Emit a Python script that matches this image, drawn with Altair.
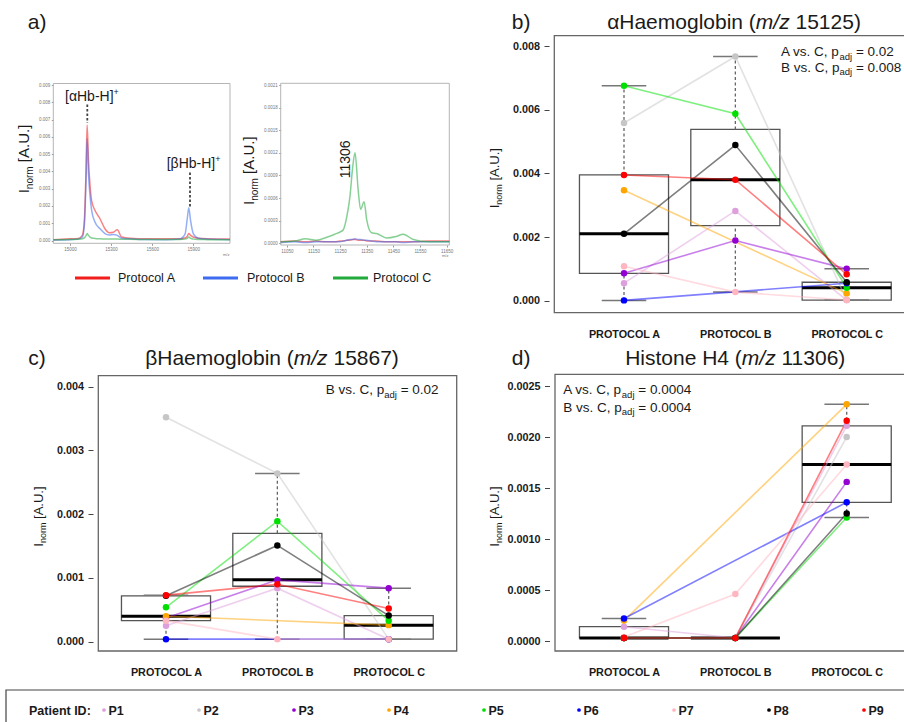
import math
import altair as alt
import pandas as pd

W, H = 904, 722
FONT = "Liberation Sans"

PATIENTS = ["P1", "P2", "P3", "P4", "P5", "P6", "P7", "P8", "P9"]
PATIENT_COLORS = ["#DDA0DD", "#C6C6C6", "#9400D3", "#FFA500", "#00E000",
                  "#0000FF", "#FFB6C1", "#000000", "#FF0000"]
PROTOCOL_LABELS = ["PROTOCOL A", "PROTOCOL B", "PROTOCOL C"]

# b) alpha-haemoglobin (m/z 15125), one value per patient, None = no value
AHB_A = [0.00055, 0.00558, 0.00086, 0.00347, 0.00675, 0.00001, 0.00108, 0.00210, 0.00395]
AHB_B = [0.00282, 0.00767, 0.00189, None, 0.00587, None, 0.00027, 0.00489, 0.00380]
AHB_C = [0.00002, 0.00002, 0.00100, 0.00023, 0.00041, 0.00055, 0.00002, 0.00058, 0.00083]

# c) beta-haemoglobin (m/z 15867)
BHB_A = [0.00025, 0.00352, 0.00037, 0.00040, 0.00054, 0.00004, 0.00033, 0.00072, 0.00073]
BHB_B = [0.00084, 0.00264, 0.00097, None, 0.00189, None, 0.00004, 0.00151, 0.00090]
BHB_C = [0.00004, 0.00004, 0.00084, 0.00026, 0.00033, 0.00004, 0.00004, 0.00041, 0.00052]

# d) histone H4 (m/z 11306)
H4_A = [0.00014, 0.00003, 0.00003, 0.00020, 0.00003, 0.00022, 0.00004, 0.00003, 0.00003]
H4_B = [0.00003, 0.00003, 0.00003, None, 0.00003, None, 0.00046, 0.00003, 0.00003]
H4_C = [0.00211, 0.00200, 0.00156, 0.00232, 0.00121, 0.00136, 0.00173, 0.00125, 0.00216]

AHB_TICKS = [0, 0.002, 0.004, 0.006, 0.008]
BHB_TICKS = [0, 0.001, 0.002, 0.003, 0.004]
H4_BOX_TICKS = [0, 0.0005, 0.001, 0.0015, 0.002, 0.0025]

# a) spectra
SPEC_NAMES = ["Protocol A", "Protocol B", "Protocol C"]
SPEC_COLORS = ["#F21D1D", "#3D6CF0", "#23A93C"]

HB_MZ = [14880, 15000, 15060, 15090, 15105, 15117, 15125, 15134, 15146, 15158,
         15182, 15219, 15255, 15287, 15316, 15345, 15377, 15438, 15550, 15700,
         15800, 15839, 15856, 15867, 15880, 15900, 15937, 16000, 16168]
HB_SPEC_A = [0.00005, 0.0001, 0.00012, 0.0003, 0.0012, 0.0041, 0.0067, 0.0048, 0.0032, 0.0023,
             0.00175, 0.00126, 0.00068, 0.00045, 0.00048, 0.00062, 0.0002, 0.00013, 0.0001, 0.0001,
             0.0001, 0.00015, 0.00025, 0.0004, 0.0003, 0.0002, 0.00013, 0.0001, 0.00008]
HB_SPEC_B = [0.00003, 0.00005, 0.00008, 0.0002, 0.0009, 0.0035, 0.0059, 0.004, 0.0026, 0.00175,
             0.00107, 0.00068, 0.0004, 0.00032, 0.00035, 0.0003, 0.00013, 0.0001, 0.00006, 0.00005,
             0.00008, 0.00035, 0.00126, 0.0019, 0.00116, 0.0004, 0.00013, 0.00008, 0.00005]
HB_SPEC_C = [0.00004, 0.00006, 0.00007, 0.0001, 0.00015, 0.00028, 0.0004, 0.0003, 0.0002, 0.00015,
             0.00012, 0.0001, 0.00009, 0.00008, 0.00008, 0.00008, 0.00007, 0.00007, 0.00006, 0.00006,
             0.00006, 0.00008, 0.00012, 0.0002, 0.00012, 0.00008, 0.00006, 0.00005, 0.00004]

H4_MZ = [11027, 11080, 11120, 11160, 11200, 11230, 11250, 11262, 11275, 11287, 11297, 11306,
         11318, 11327, 11340, 11350, 11368, 11387, 11425, 11460, 11487, 11525, 11580, 11660]
H4_SPEC_A = [0.00002, 0.00003, 0.00002, 0.00003, 0.00002, 0.00002, 0.00003, 0.00003, 0.00004, 0.00004,
             0.00005, 0.00005, 0.00004, 0.00004, 0.00004, 0.00003, 0.00003, 0.00003, 0.00002, 0.00002,
             0.00002, 0.00002, 0.00003, 0.00003]
H4_SPEC_B = [0.00001, 0.00002, 0.00001, 0.00002, 0.00002, 0.00002, 0.00002, 0.00003, 0.00004, 0.00005,
             0.00005, 0.00006, 0.00005, 0.00005, 0.00004, 0.00004, 0.00003, 0.00002, 0.00002, 0.00002,
             0.00001, 0.00002, 0.00002, 0.00002]
H4_SPEC_C = [0.00002, 0.00003, 0.00006, 0.00004, 0.00008, 0.00012, 0.00015, 0.00018, 0.00035, 0.00062,
             0.001, 0.0012, 0.0007, 0.00045, 0.00055, 0.00031, 0.00014, 0.00013, 0.00007, 0.00009,
             0.00012, 0.00005, 0.00002, 0.00002]

HB_TICKS_X = [15000, 15300, 15600, 15900]
HB_TICKS_Y = [0, 0.001, 0.002, 0.003, 0.004, 0.005, 0.006, 0.007, 0.008, 0.009]
H4_TICKS_X = [11050, 11150, 11250, 11350, 11450, 11550, 11650]
H4_TICKS_Y = [0, 0.0003, 0.0006, 0.0009, 0.0012, 0.0015, 0.0018, 0.0021]

# ---------------------------------------------------------------- helpers
CW = {' ': 278, '(': 333, ')': 333, '+': 584, ',': 278, '-': 333, '.': 278, '/': 278,
      ':': 278, '=': 584, '[': 278, ']': 278, 'A': 667, 'B': 667, 'C': 722, 'H': 722,
      'I': 278, 'U': 722, 'P': 667, 'a': 556, 'b': 556, 'c': 500, 'd': 556, 'e': 556,
      'g': 556, 'i': 222, 'j': 222, 'l': 222, 'm': 833, 'n': 556, 'o': 556, 'p': 556,
      'r': 333, 's': 500, 't': 278, 'v': 500, 'z': 500, 'α': 578, 'β': 575}


def tw(s, size):
    return sum(CW.get(c, 556) for c in s) / 1000.0 * size


ONE = pd.DataFrame({"k": [0]})
INK = "#1a1a1a"


def label(s, x, y, size, align="left", baseline="alphabetic", angle=0,
          weight="normal", style="normal", color=INK, font=FONT):
    props = dict(text=s, x=x, y=y, fontSize=size, font=font, align=align,
                 baseline=baseline, fontWeight=weight, fontStyle=style, color=color)
    if angle:
        props["angle"] = angle
    return alt.Chart(ONE).mark_text(**props).encode(opacity=alt.value(1))


def seq(x0, base, pieces):
    out = []
    x = x0
    for s, size, style, dy in pieces:
        lead = len(s) - len(s.lstrip(" "))
        out.append(label(s.strip(), x + tw(" ", size) * lead, base + dy, size, style=style))
        x += tw(s, size)
    return out


def centered(cx, base, pieces):
    total = sum(tw(s, size) for s, size, _, _ in pieces)
    return seq(cx - total / 2.0, base, pieces)


def rule(x1, x2, y1, y2, color, width, dash=None):
    m = dict(color=color, strokeWidth=width)
    if dash:
        m["strokeDash"] = dash
    return alt.Chart(ONE).mark_rule(**m).encode(
        x=alt.value(x1), x2=alt.value(x2), y=alt.value(y1), y2=alt.value(y2))


def frame(x1, x2, y1, y2, color, width):
    return alt.Chart(ONE).mark_rect(fill="white", fillOpacity=0, stroke=color,
                                    strokeWidth=width).encode(
        x=alt.value(x1), x2=alt.value(x2), y=alt.value(y1), y2=alt.value(y2))


def ytitle(xb, ybot, size, sub):
    w1 = tw("I", size)
    w2 = tw("norm", sub)
    return [label("I", xb, ybot, size, angle=270),
            label("norm", xb + size * 0.25, ybot - w1, sub, angle=270),
            label("[A.U.]", xb, ybot - w1 - w2 - tw(" ", size), size, angle=270)]


def padj(x0, base, prefix, value, size=13.5, sub=9.5):
    return seq(x0, base, [(prefix, size, "normal", 0), ("adj", sub, "normal", 3.5),
                          (" = " + value, size, "normal", 0)])


def fivenum(v):
    s = sorted(v)
    n = len(s)
    n4 = math.floor((n + 3) / 2) / 2
    idx = [1, n4, (n + 1) / 2, n + 1 - n4, n]
    return [0.5 * (s[math.floor(d) - 1] + s[math.ceil(d) - 1]) for d in idx]


def box_stats(v):
    _, q1, med, q3, _ = fivenum(v)
    iqr = q3 - q1
    hi = max(x for x in v if x <= q3 + 1.5 * iqr)
    lo = min(x for x in v if x >= q1 - 1.5 * iqr)
    return q1, med, q3, lo, hi


pat_color = dict(scale=alt.Scale(domain=PATIENTS, range=PATIENT_COLORS), legend=None)


def box_panel(groups, x_range, ymax, y_range, yticks, yfmt, axis_x, plot_bottom):
    xs = alt.Scale(domain=[1, 3], range=x_range, nice=False, zero=False)
    ys = alt.Scale(domain=[0, ymax], range=y_range, nice=False, zero=False)
    pts, boxes, whisk, caps = [], [], [], []
    for gi, vals in enumerate(groups):
        pos = gi + 1
        present = [v for v in vals if v is not None]
        q1, med, q3, lo, hi = box_stats(present)
        boxes.append(dict(x1=pos - 0.4, x2=pos + 0.4, q1=q1, q3=q3, med=med))
        whisk += [dict(pos=pos, a=q3, b=hi), dict(pos=pos, a=lo, b=q1)]
        caps += [dict(c1=pos - 0.2, c2=pos + 0.2, v=hi), dict(c1=pos - 0.2, c2=pos + 0.2, v=lo)]
        for p, v in zip(PATIENTS, vals):
            if v is not None:
                pts.append(dict(patient=p, pos=pos, val=v))
    bdf, wdf, cdf, pdf = (pd.DataFrame(boxes), pd.DataFrame(whisk),
                          pd.DataFrame(caps), pd.DataFrame(pts))
    label_expr = ("datum.value == 1 ? '%s' : datum.value == 2 ? '%s' : '%s'"
                  % tuple(PROTOCOL_LABELS))
    xaxis = alt.Axis(orient="bottom", offset=plot_bottom - H, values=[1, 2, 3],
                     labelExpr=label_expr, ticks=False, tickSize=0, domain=False,
                     grid=False, labelFont=FONT, labelFontWeight="bold", labelFontSize=10.8,
                     labelColor=INK, labelPadding=15.5, labelFlush=False,
                     labelOverlap=False, title=None)
    yaxis = alt.Axis(orient="left", offset=-axis_x, values=yticks, format=yfmt,
                     tickSize=5, tickColor="#444", tickWidth=1, domain=False, grid=False,
                     labelFont=FONT, labelFontWeight="bold", labelFontSize=10.8,
                     labelColor=INK, labelPadding=4.5, labelFlush=False,
                     labelOverlap=False, title=None)
    out = [
        alt.Chart(bdf).mark_rect(fill="white", fillOpacity=0, stroke="#555",
                                 strokeWidth=1.3).encode(
            x=alt.X("x1:Q", scale=xs, axis=None), x2="x2:Q",
            y=alt.Y("q1:Q", scale=ys, axis=None), y2="q3:Q"),
        alt.Chart(wdf).mark_rule(color="#666", strokeWidth=1.3, strokeDash=[3, 2.5]).encode(
            x=alt.X("pos:Q", scale=xs, axis=None),
            y=alt.Y("a:Q", scale=ys, axis=None), y2="b:Q"),
        alt.Chart(cdf).mark_rule(color="#777", strokeWidth=1.5).encode(
            x=alt.X("c1:Q", scale=xs, axis=None), x2="c2:Q",
            y=alt.Y("v:Q", scale=ys, axis=None)),
        alt.Chart(bdf).mark_rule(color="#000", strokeWidth=3).encode(
            x=alt.X("x1:Q", scale=xs, axis=None), x2="x2:Q",
            y=alt.Y("med:Q", scale=ys, axis=None)),
        alt.Chart(pdf).mark_line(strokeWidth=1.6, opacity=0.5).encode(
            x=alt.X("pos:Q", scale=xs, axis=None),
            y=alt.Y("val:Q", scale=ys, axis=None),
            color=alt.Color("patient:N", **pat_color),
            order=alt.Order("pos:Q")),
        alt.Chart(pdf).mark_circle(size=42, opacity=1).encode(
            x=alt.X("pos:Q", scale=xs, axis=xaxis),
            y=alt.Y("val:Q", scale=ys, axis=yaxis),
            color=alt.Color("patient:N", **pat_color)),
    ]
    return out


def spectrum(mz, series, x_dom, x_rng, ymax, y_rng, xticks, yticks, yfmt, axis_x, axis_y):
    rows = []
    for name, vals in zip(SPEC_NAMES, series):
        for m, v in zip(mz, vals):
            rows.append(dict(protocol=name, mz=m, val=v))
    df = pd.DataFrame(rows)
    xs = alt.Scale(domain=x_dom, range=x_rng, nice=False, zero=False)
    ys = alt.Scale(domain=[0, ymax], range=y_rng, nice=False, zero=False)
    xa = alt.Axis(orient="bottom", offset=axis_y - H, values=xticks, format="d",
                  tickSize=2, tickColor="#999", domain=False, grid=False,
                  labelFont=FONT, labelFontSize=4.5, labelColor="#777", labelPadding=1.5,
                  labelFlush=False, labelOverlap=False, title=None)
    ya = alt.Axis(orient="left", offset=-axis_x, values=yticks, format=yfmt,
                  tickSize=2, tickColor="#999", domain=False, grid=False,
                  labelFont=FONT, labelFontSize=4.5, labelColor="#777", labelPadding=1.5,
                  labelFlush=False, labelOverlap=False, title=None)
    return alt.Chart(df).mark_line(strokeWidth=1.5, opacity=0.55, interpolate="monotone").encode(
        x=alt.X("mz:Q", scale=xs, axis=xa),
        y=alt.Y("val:Q", scale=ys, axis=ya),
        color=alt.Color("protocol:N", scale=alt.Scale(domain=SPEC_NAMES, range=SPEC_COLORS),
                        legend=None))


layers = []

# ---------------------------------------------------------------- panel a
layers.append(frame(53.3, 230, 83.5, 243.3, "#b5b5b5", 1))
layers.append(frame(280.7, 449.3, 83.3, 245, "#b5b5b5", 1))
layers.append(spectrum(HB_MZ, [HB_SPEC_A, HB_SPEC_B, HB_SPEC_C], [14878, 16168], [53.3, 230],
                       0.009, [240.5, 85.2], HB_TICKS_X, HB_TICKS_Y, ".3f", 53.3, 243.3))
layers.append(spectrum(H4_MZ, [H4_SPEC_A, H4_SPEC_B, H4_SPEC_C], [11027, 11660], [280.7, 449.3],
                       0.0021, [243.3, 85], H4_TICKS_X, H4_TICKS_Y, ".4f", 280.7, 245))
layers.append(rule(87.3, 87.3, 104.5, 123, "#444", 1.8, [2.5, 2]))
layers.append(rule(190, 190, 172.5, 207, "#444", 1.8, [2.5, 2]))
layers += seq(65, 100.5, [("[αHb-H]", 14, "normal", 0), ("+", 9, "normal", -6)])
layers += seq(166.7, 168, [("[βHb-H]", 14, "normal", 0), ("+", 9, "normal", -6)])
layers.append(label("11306", 350, 178.3, 14, angle=270))
layers += ytitle(29, 193.3, 15, 10)
layers += ytitle(254, 205, 15, 10)
layers.append(label("m/z", 223, 256, 4, color="#777"))
layers.append(label("m/z", 442, 257, 4, color="#777"))
layers.append(label("a)", 27.7, 29, 21))
for (x1, x2, xt), name, col in zip([(75, 110, 118), (203, 238, 247), (333, 368, 373)],
                                    SPEC_NAMES, SPEC_COLORS):
    layers.append(rule(x1, x2, 278, 278, col, 3))
    layers.append(label(name, xt, 278, 12.5, baseline="middle"))

# ---------------------------------------------------------------- panel b
layers.append(frame(554.3, 915, 35.7, 312.7, "#666", 1.3))
layers += box_panel([AHB_A, AHB_B, AHB_C], [624, 846.7], 0.008, [300.7, 46],
                    AHB_TICKS, ".3f", 549, 312.7)
layers.append(label("b)", 511.7, 28.5, 21))
layers += centered(734, 28.5, [("αHaemoglobin (", 21, "normal", 0), ("m/z", 21, "italic", 0),
                               (" 15125)", 21, "normal", 0)])
layers += padj(781, 56, "A vs. C, p", "0.02")
layers += padj(781, 71.7, "B vs. C, p", "0.008")
layers += ytitle(499, 208.3, 13, 9)

# ---------------------------------------------------------------- panel c
layers.append(frame(98.3, 456.7, 375.7, 651, "#666", 1.3))
layers += box_panel([BHB_A, BHB_B, BHB_C], [166, 388.7], 0.004, [641.7, 386.7],
                    BHB_TICKS, ".3f", 93, 651)
layers.append(label("c)", 28.3, 365, 21))
layers += centered(272, 365, [("βHaemoglobin (", 21, "normal", 0), ("m/z", 21, "italic", 0),
                              (" 15867)", 21, "normal", 0)])
layers += padj(325.7, 394.3, "B vs. C, p", "0.02")
layers += ytitle(42.5, 546.7, 13, 9)

# ---------------------------------------------------------------- panel d
layers.append(frame(555, 915, 374.3, 651, "#666", 1.3))
layers += box_panel([H4_A, H4_B, H4_C], [624, 846.7], 0.0025, [641, 386],
                    H4_BOX_TICKS, ".4f", 549.5, 651)
layers.append(label("d)", 511.7, 364.5, 21))
layers += centered(736, 364.5, [("Histone H4 (", 21, "normal", 0), ("m/z", 21, "italic", 0),
                                (" 11306)", 21, "normal", 0)])
layers += padj(563.3, 394.3, "A vs. C, p", "0.0004")
layers += padj(563.3, 411.7, "B vs. C, p", "0.0004")
layers += ytitle(499, 546.7, 13, 9)

# ---------------------------------------------------------------- patient legend
layers.append(frame(6, 915, 690, 740, "#444", 1.2))
layers.append(label("Patient ID:", 29, 711, 12.5, baseline="middle", weight="bold"))
leg = pd.DataFrame({"patient": PATIENTS, "idx": list(range(len(PATIENTS)))})
leg_x = alt.Scale(domain=[0, 8], range=[104, 864], nice=False, zero=False)
layers.append(alt.Chart(leg).mark_circle(size=14, opacity=1).encode(
    x=alt.X("idx:Q", scale=leg_x, axis=None), y=alt.value(710),
    color=alt.Color("patient:N", **pat_color)))
layers.append(alt.Chart(leg).mark_text(align="left", baseline="middle", dx=4.5, font=FONT,
                                       fontWeight="bold", fontSize=12.5, color=INK).encode(
    x=alt.X("idx:Q", scale=leg_x, axis=None), y=alt.value(711), text="patient:N"))

chart = alt.layer(*layers).resolve_scale(
    x="independent", y="independent", color="independent"
).properties(
    width=W, height=H, autosize=alt.AutoSizeParams(type="none"), padding=0,
    background="white"
).configure_view(strokeWidth=0)

chart.save("out.html", embed_options={"renderer": "svg", "actions": False})
